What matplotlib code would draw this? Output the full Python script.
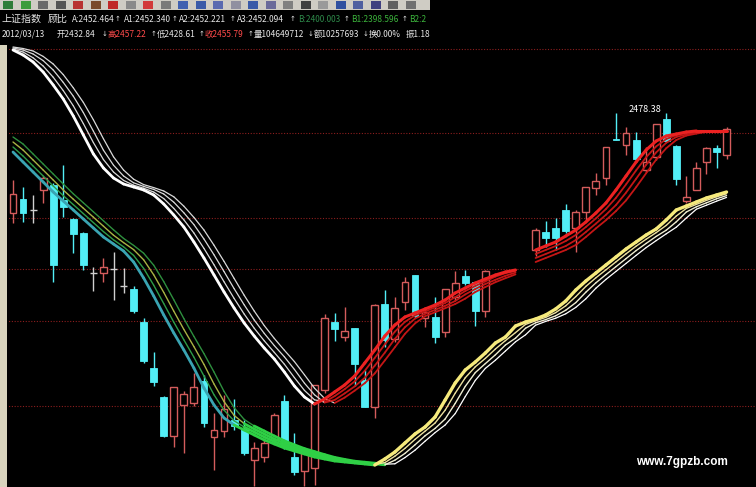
import numpy as np
import matplotlib
matplotlib.use("Agg")
import matplotlib.pyplot as plt
from matplotlib.patches import Rectangle
from matplotlib.collections import LineCollection

NA = np.nan

# ---- daily bars (slot index, NA = no bar shown) ----
opens = [2372, 2386, 2375, 2395, 2400, 2385, 2366, 2352, 2312, 2312,
         2316, 2299, 2296, 2263, 2217, 2188, 2149, 2180, 2182, 2204,
         2148, 2154, 2165, 2156, 2125, 2128, 2145, 2184, 2128, 2114,
         2117, 2195, 2263, 2248, 2257, 2205, 2178, 2281, 2246, 2283,
         2310, 2267, 2268, 2253, 2288, 2309, 2303, 2274, NA, NA,
         NA, NA, 2335, 2353, 2357, 2375, 2357, 2373, 2397, 2407,
         2446, 2440, 2445, 2415, 2428, 2466, 2439, 2384, 2395, 2423,
         2437, 2430]
highs = [2405, 2398, 2390, 2409, 2402, 2420, 2367, 2353, 2318, 2327,
         2333, 2317, 2299, 2267, 2233, 2189, 2198, 2194, 2212, 2210,
         2172, 2190, 2186, 2165, 2143, 2145, 2172, 2190, 2152, 2137,
         2200, 2271, 2272, 2278, 2257, 2215, 2281, 2295, 2288, 2308,
         2310, 2278, 2288, 2296, 2314, 2315, 2303, 2315, NA, NA,
         NA, NA, 2357, 2364, 2367, 2381, 2375, 2398, 2412, 2438,
         2472, 2458, 2453, 2438, 2461, 2472, 2440, 2409, 2423, 2438,
         2440, 2458]
lows = [2362, 2363, 2362, 2382, 2303, 2368, 2332, 2315, 2294, 2303,
        2285, 2292, 2272, 2222, 2199, 2148, 2138, 2132, 2179, 2158,
        2115, 2148, 2155, 2130, 2099, 2123, 2142, 2136, 2110, 2099,
        2100, 2192, 2244, 2244, 2199, 2178, 2167, 2238, 2243, 2275,
        2267, 2258, 2242, 2248, 2285, 2300, 2259, 2268, NA, NA,
        NA, NA, 2329, 2338, 2335, 2352, 2333, 2365, 2390, 2400,
        2445, 2430, 2423, 2413, 2425, 2444, 2400, 2382, 2395, 2411,
        2417, 2426]
closes = [2391, 2372, 2375, 2407, 2320, 2378, 2351, 2320, 2312, 2318,
          2316, 2299, 2274, 2224, 2203, 2149, 2198, 2191, 2198, 2162,
          2155, 2176, 2159, 2132, 2137, 2142, 2170, 2138, 2113, 2135,
          2200, 2267, 2256, 2254, 2221, 2178, 2280, 2245, 2277, 2303,
          2269, 2273, 2248, 2296, 2302, 2302, 2274, 2314, NA, NA,
          NA, NA, 2355, 2347, 2347, 2354, 2373, 2398, 2404, 2438,
          2445, 2452, 2426, 2423, 2461, 2444, 2406, 2388, 2417, 2437,
          2433, 2456]

# ---- Guppy ribbons: A (short group) and B (long group) ----
ribbon_a0 = [2535, 2530, 2523, 2513, 2500, 2486, 2469, 2450, 2431, 2417,
             2407, 2401, 2398, 2395, 2390, 2381, 2370, 2358, 2343, 2327,
             2310, 2293, 2277, 2262, 2249, 2237, 2226, 2213, 2199, 2188,
             2181, 2186, 2193, 2200, 2209, 2222, 2235, 2249, 2260, 2268,
             2272, 2276, 2280, 2285, 2292, 2297, 2302, 2306, 2310, 2313,
             2315, NA, 2335, 2339, 2343, 2349, 2355, 2363, 2372, 2382,
             2395, 2409, 2423, 2435, 2444, 2449, 2451, 2453, 2454, 2454,
             2454, 2454]
ribbon_a1 = [2536, 2533, 2527.2, 2519, 2507.8, 2494.4, 2479.2, 2461.4, 2442.4, 2425.4,
             2413, 2404.6, 2399.8, 2396.8, 2393, 2386.4, 2376.6, 2365.2, 2352, 2336.6,
             2320.2, 2303.2, 2286.6, 2271, 2256.8, 2244.2, 2232.6, 2220.8, 2207.4, 2194.6,
             2185.2, 2183, 2188.8, 2195.8, 2203.6, 2214.2, 2227.2, 2240.6, 2253.4, 2263.2,
             2269.6, 2273.6, 2277.6, 2282, 2287.8, 2294, 2299, 2303.6, 2308.4, 2311.8,
             2314.2, NA, 2331, 2335, 2339, 2344, 2350, 2358, 2366.6, 2376,
             2387.2, 2400.6, 2414.6, 2427.8, 2438.6, 2446, 2449.8, 2452.2, 2453.4, 2454,
             2454, 2454]
ribbon_a2 = [2537, 2535, 2531, 2524.4, 2515, 2502.6, 2488.8, 2472.4, 2453.8, 2434.8,
             2419.8, 2409, 2402.2, 2398.6, 2395.6, 2391, 2382.8, 2372.2, 2360.4, 2346,
             2330.2, 2313.4, 2296.4, 2280.2, 2265, 2251.6, 2239.4, 2228.2, 2215.6, 2201.8,
             2190.2, 2182.4, 2185, 2191.6, 2198.6, 2207.2, 2219.4, 2232.4, 2246.2, 2257.8,
             2266.4, 2271.2, 2275.2, 2279.2, 2284, 2290.6, 2296, 2301, 2305.2, 2309.2,
             2312.4, NA, 2327, 2331, 2335, 2339, 2345, 2353, 2361.4, 2370.2,
             2380, 2392.4, 2406.2, 2420.2, 2432.6, 2442.2, 2448, 2450.6, 2452.6, 2453.8,
             2454, 2454]
ribbon_a3 = [2538, 2536.5, 2534, 2528.6, 2521, 2510.4, 2497.2, 2482.6, 2465.2, 2446.2,
             2428.2, 2415, 2405.8, 2400.4, 2397.4, 2394, 2388.2, 2378.8, 2367.6, 2355,
             2339.8, 2323.6, 2306.6, 2289.8, 2274, 2259.4, 2246.6, 2234.8, 2223.4, 2210.2,
             2196.8, 2186.6, 2182, 2187.4, 2194.4, 2201.8, 2211.6, 2224.6, 2237.8, 2251.2,
             2261.6, 2268.8, 2272.8, 2276.8, 2281, 2286.4, 2293, 2298, 2302.8, 2306.8,
             2310.6, NA, 2323, 2327, 2331, 2335, 2340, 2348, 2356.6, 2364.8,
             2374, 2384.6, 2397.8, 2411.8, 2425.4, 2436.8, 2445, 2449.4, 2451.4, 2453.2,
             2453.8, 2454]

ribbon_b0 = [2433, 2423, 2413, 2403, 2393, 2384, 2375, 2366, 2357, 2348,
             2341, 2334, 2323, 2307, 2289, 2270, 2252, 2235, 2217, 2197,
             2180, 2167, 2160, 2155, 2150, 2145, 2141, 2137, 2134, 2131,
             2128, 2126, 2124, 2123, 2122, 2121, 2120, 2126, 2133, 2142,
             2151, 2158, 2168, 2185, 2202, 2215, 2223, 2232, 2242, 2248,
             2259, 2263, 2266, 2270, 2276, 2284, 2295, 2304, 2312, 2320,
             2328, 2336, 2343, 2350, 2356, 2365, 2375, 2379, 2383, 2387,
             2390, 2393]
ribbon_b1 = [2438, 2429, 2419, 2409, 2399, 2389.4, 2380.4, 2371.4, 2362.4, 2353.4,
             2345.2, 2338.2, 2329.6, 2316.6, 2299.8, 2281.4, 2262.8, 2245.2, 2227.8, 2209,
             2190.2, 2174.8, 2164.2, 2158, 2153, 2148, 2143.4, 2139.4, 2135.8, 2132.8,
             2129.8, 2127.2, 2125.2, 2123.6, 2122.4, 2121.4, 2120.6, 2122.4, 2128.8, 2136.6,
             2145.6, 2153.8, 2162, 2174.8, 2191.8, 2207.2, 2218.2, 2226.6, 2236, 2244.4,
             2252.4, 2260.6, 2264.2, 2267.6, 2272.4, 2279.2, 2288.4, 2298.6, 2307.2, 2315.2,
             2323.2, 2331.2, 2338.8, 2345.8, 2352.4, 2359.6, 2369, 2376.6, 2380.6, 2384.6,
             2388.2, 2391.2]
ribbon_b2 = [2443, 2435, 2425, 2415, 2405, 2395, 2385.8, 2376.8, 2367.8, 2358.8,
             2349.8, 2342.4, 2335.4, 2325.2, 2310.2, 2292.6, 2273.8, 2255.6, 2238.4, 2220.6,
             2201, 2183.4, 2169.6, 2161.4, 2156, 2151, 2146, 2141.8, 2137.8, 2134.6,
             2131.6, 2128.6, 2126.4, 2124.4, 2123.2, 2122.2, 2121.2, 2120.2, 2124.8, 2131.6,
             2140.2, 2149.2, 2156.6, 2166, 2181.6, 2198.6, 2212.4, 2221.4, 2230.2, 2240,
             2246.8, 2256.8, 2262.2, 2265.4, 2269.2, 2274.8, 2282.4, 2292.8, 2302.2, 2310.4,
             2318.4, 2326.4, 2334.4, 2341.6, 2348.6, 2354.8, 2363.2, 2373, 2378.2, 2382.2,
             2386.2, 2389.4]
ribbon_b3 = [2448, 2441, 2431, 2421, 2411, 2401, 2391.2, 2382.2, 2373.2, 2364.2,
             2355.2, 2346.6, 2339.6, 2331.8, 2319.8, 2303.4, 2285.2, 2266.4, 2248.6, 2231.4,
             2213, 2193.6, 2177.4, 2165.6, 2159, 2154, 2149, 2144.2, 2140.2, 2136.4,
             2133.4, 2130.4, 2127.6, 2125.6, 2123.8, 2122.8, 2121.8, 2120.8, 2121.2, 2127.4,
             2134.8, 2143.8, 2152.4, 2160, 2171.4, 2188.4, 2204.6, 2216.6, 2224.8, 2234,
             2243.2, 2250.2, 2259.8, 2263.6, 2266.8, 2271.2, 2277.6, 2286.2, 2296.8, 2305.6,
             2313.6, 2321.6, 2329.6, 2337.4, 2344.4, 2351.2, 2357.8, 2367, 2375.8, 2379.8,
             2383.8, 2387.6]

grid_levels = [2536, 2452, 2367, 2316, 2264, 2179]
high_label = "2478.38"

# header rows: (x pixel, text, color key); arrows given by their centre x
header_row1 = [(2, "上证指数", "w"), (48, "顾比", "w"), (72, "A:2452.464", "w"), (118, "↑", "w"),
               (124, "A1:2452.340", "w"), (175, "↑", "w"), (179, "A2:2452.221", "w"), (233, "↑", "w"),
               (237, "A3:2452.094", "w"), (293, "↑", "w"), (298, "B:2400.003", "dg"), (347, "↑", "w"),
               (351, "B1:2398.596", "g"), (405, "↑", "w"), (409, "B2:2", "g")]
header_row2 = [(2, "2012/03/13", "w"), (57, "开2432.84", "w"), (105, "↓", "w"), (108, "高2457.22", "r"),
               (154, "↑", "w"), (157, "低2428.61", "w"), (202, "↑", "w"), (205, "收2455.79", "r"),
               (251, "↑", "w"), (254, "量104649712", "w"), (311, "↓", "w"), (314, "额10257693", "w"),
               (366, "↓", "w"), (369, "换0.00%", "w"), (406, "振1.18", "w")]
text_colors = {"w": "#e6e6e6", "r": "#ff4a4a", "g": "#3cb43c", "dg": "#2e8a4a"}

# ---- colours ----
UP = "#d45c5c"
DOWN = "#52eef6"
FLAT = "#cfcfcf"
BW = 0.68

W, H = 756, 487


def fx(px):
    return px / W


def fy(py):
    return 1 - py / H


def draw_ribbon(ax, vals, up, down, flat=None, flat_tol=0.0):
    # colour each segment by direction: (colour, linewidth) per style
    v = np.asarray(vals, float)
    segs, cols, lws = [], [], []
    for i in range(len(v) - 1):
        a, b = v[i], v[i + 1]
        if np.isnan(a) or np.isnan(b):
            continue
        d = b - a
        if d >= 0:
            style = up
        elif flat is not None and -d < flat_tol:
            style = flat
        else:
            style = down
        segs.append([(i, a), (i + 1, b)])
        cols.append(style[0])
        lws.append(style[1])
    ax.add_collection(LineCollection(segs, colors=cols, linewidths=lws,
                                     capstyle="round", zorder=3))


fig = plt.figure(figsize=(W / 100, H / 100), dpi=100, facecolor="black")

# ---- toolbar strip and left frame ----
fig.patches.append(Rectangle((0, fy(10)), fx(430), 10 / H, transform=fig.transFigure,
                             facecolor="#cfccc4", edgecolor="none"))
icon_colors = ["#2f7d3a", "#3c9c3c", "#6a6a6a", "#555555", "#b83232", "#7a4a2a", "#c02828",
               "#8a8a8a", "#d23a3a", "#7a7a7a", "#4060b0", "#3a5aa8", "#5a6ab0", "#9090a0",
               "#3a5aa8", "#6a6a9a", "#808080", "#404040", "#9a9a9a", "#3050a0", "#5060a0",
               "#404080", "#606060", "#707070"]
for k, c in enumerate(icon_colors):
    fig.patches.append(Rectangle((fx(3 + 17.5 * k), fy(9)), fx(10), 8 / H,
                                 transform=fig.transFigure, facecolor=c, edgecolor="none"))
fig.patches.append(Rectangle((0, 0), fx(7), fy(45), transform=fig.transFigure,
                             facecolor="#d8d3bd", edgecolor="none"))

# ---- header text ----
hfont = ["Noto Sans CJK SC", "DejaVu Sans"]
for row, ypix in ((header_row1, 19), (header_row2, 34)):
    for xpix, txt, ck in row:
        if txt in ("↑", "↓"):
            fig.text(fx(xpix), fy(ypix), txt, color=text_colors[ck], fontsize=5,
                     family="DejaVu Sans", ha="center", va="center")
        else:
            size = 7.2 if txt in ("上证指数", "顾比") else 6.0
            fig.text(fx(xpix), fy(ypix), txt, color=text_colors[ck], fontsize=size,
                     family=hfont, ha="left", va="center")

# ---- price panel ----
ax = fig.add_axes([fx(9), 0, 1 - fx(9), 1 - 45 / H])
ax.set_facecolor("black")
ax.set_xlim((9 - 13) / 10.05, (756 - 13) / 10.05)
ax.set_ylim(2098, 2540)
ax.axis("off")

ax.hlines(grid_levels, -1, 75, colors="#8c1e1e", linestyles=(0, (1, 1.5)),
          linewidth=0.8, zorder=1)

# ---- candlesticks ----
for i, (o, h, l, c) in enumerate(zip(opens, highs, lows, closes)):
    if np.isnan(o):
        continue
    if c > o:
        ax.vlines(i, c, h, color=UP, lw=1.0, zorder=2)
        ax.vlines(i, l, o, color=UP, lw=1.0, zorder=2)
        ax.add_patch(Rectangle((i - BW / 2, o), BW, c - o, facecolor="black",
                               edgecolor=UP, lw=1.0, zorder=2))
    elif c < o:
        ax.vlines(i, l, h, color=DOWN, lw=1.0, zorder=2)
        ax.add_patch(Rectangle((i - BW / 2, c), BW, o - c, facecolor=DOWN,
                               edgecolor=DOWN, lw=0.6, zorder=2))
    else:
        ax.vlines(i, l, h, color=FLAT, lw=1.0, zorder=2)
        ax.hlines(o, i - BW / 2, i + BW / 2, color=FLAT, lw=1.0, zorder=2)

# ---- long group (green falling / yellow rising) ----
green_band = ("#2fcf45", 2.0)
draw_ribbon(ax, ribbon_b3, ("#ffffff", 0.9), ("#2e8f3e", 1.0), green_band, 6)
draw_ribbon(ax, ribbon_b2, ("#f0eed2", 1.0), ("#a8b344", 1.0), green_band, 6)
draw_ribbon(ax, ribbon_b1, ("#eee2a0", 1.0), ("#2f9c48", 1.0), green_band, 6)
draw_ribbon(ax, ribbon_b0, ("#f6ea7c", 2.4), ("#3aa4b2", 2.0), green_band, 6)

# ---- short group (white falling / red rising) ----
for vals in (ribbon_a3, ribbon_a2, ribbon_a1):
    draw_ribbon(ax, vals, ("#c41616", 1.3), ("#d9d9d9", 0.9))
draw_ribbon(ax, ribbon_a0, ("#ec2222", 2.2), ("#ffffff", 2.0))

ax.text(62.9, 2476, high_label, color="white", fontsize=6.5, ha="center",
        va="center", family=hfont, zorder=4)

fig.text(fx(636), fy(462), "www.7gpzb.com", color="white", fontsize=8.5,
         family=["Liberation Sans", "DejaVu Sans"], weight="bold",
         ha="left", va="center")

fig.savefig("out.png", dpi=100, facecolor="black")
